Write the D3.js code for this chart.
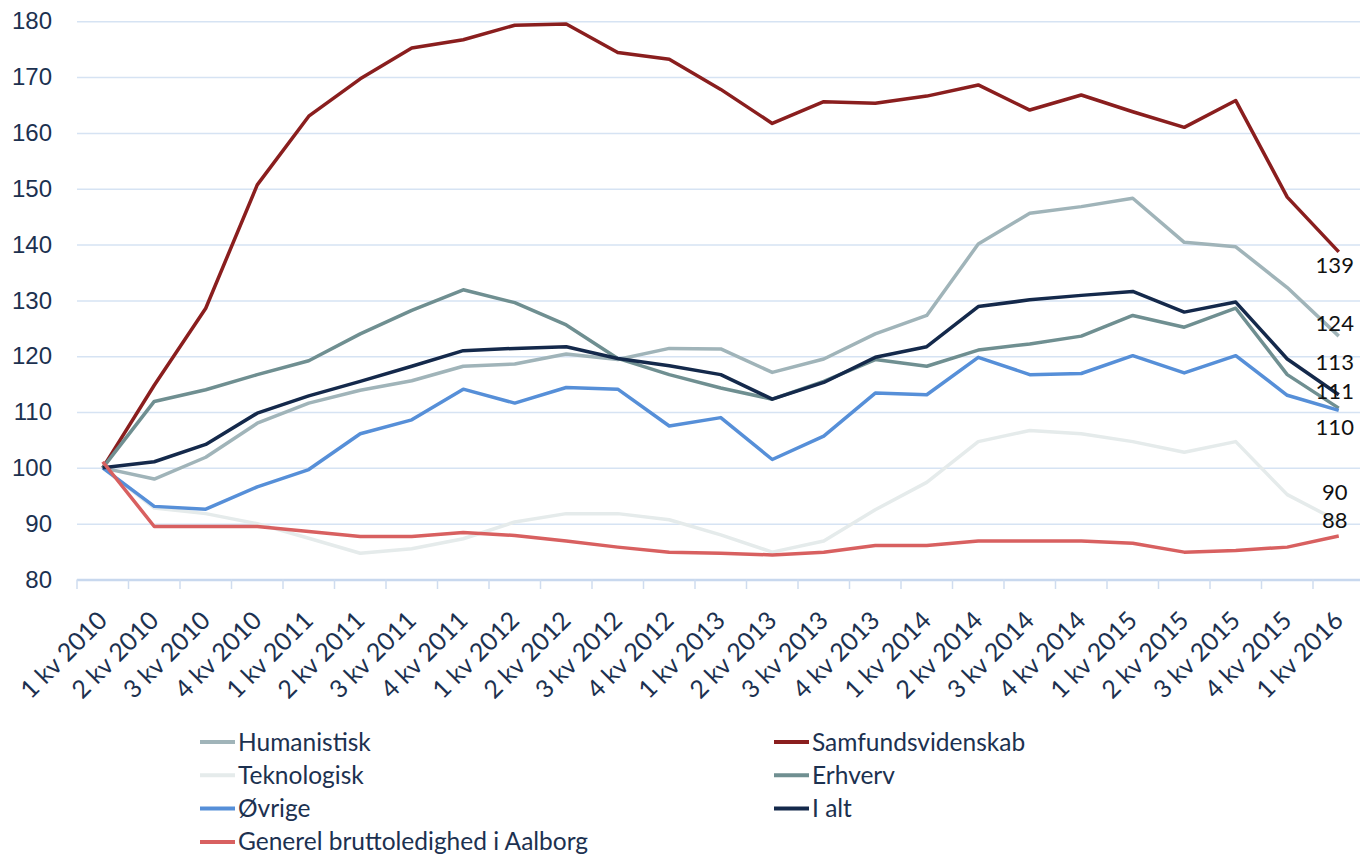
<!DOCTYPE html>
<html>
<head>
<meta charset="utf-8">
<script src="https://cdn.jsdelivr.net/npm/d3@7"></script>
<style>
	body { margin: 0; background: #fff; }
	svg { display: block; font-family: Lato, "Open Sans", sans-serif; }
	.grid line { stroke: #d6e3f3; stroke-width: 1.5; }
	.tick text { fill: #1c3150; }
	.line { fill: none; stroke-width: 3.5; stroke-linejoin: round; }
</style>
</head>
<body>
<svg id="svg0" width="1360" height="856"></svg>
<script>
// kvartaler (x-akse)
var quarters = ["1 kv 2010","2 kv 2010","3 kv 2010","4 kv 2010",
	"1 kv 2011","2 kv 2011","3 kv 2011","4 kv 2011",
	"1 kv 2012","2 kv 2012","3 kv 2012","4 kv 2012",
	"1 kv 2013","2 kv 2013","3 kv 2013","4 kv 2013",
	"1 kv 2014","2 kv 2014","3 kv 2014","4 kv 2014",
	"1 kv 2015","2 kv 2015","3 kv 2015","4 kv 2015",
	"1 kv 2016"];
var yTicks = [80, 90, 100, 110, 120, 130, 140, 150, 160, 170, 180];

// indeks, 1 kv 2010 = 100
var humanistisk = [100, 98.0, 101.9, 108.0, 111.6, 113.9, 115.6, 118.2, 118.6, 120.4, 119.4, 121.4, 121.3,
	117.1, 119.5, 124.0, 127.3, 140.1, 145.6, 146.8, 148.3, 140.4, 139.6, 132.3, 123.6];
var samfund = [100, 114.8, 128.6, 150.7, 163.0, 169.7, 175.2, 176.7, 179.3, 179.5, 174.4, 173.2, 167.8,
	161.7, 165.6, 165.3, 166.6, 168.6, 164.1, 166.8, 163.8, 161.0, 165.8, 148.5, 138.7];
var teknologisk = [100, 92.8, 91.8, 90.0, 87.4, 84.7, 85.5, 87.3, 90.3, 91.8, 91.8, 90.7, 88.0,
	84.9, 86.9, 92.5, 97.4, 104.7, 106.7, 106.1, 104.7, 102.8, 104.7, 95.2, 90.4];
var erhverv = [100, 111.9, 114.0, 116.7, 119.2, 124.0, 128.2, 131.9, 129.6, 125.6, 119.6, 116.7, 114.3,
	112.3, 115.5, 119.4, 118.2, 121.1, 122.2, 123.6, 127.3, 125.2, 128.6, 116.7, 110.7];
var oevrige = [100, 93.1, 92.6, 96.6, 99.7, 106.1, 108.6, 114.1, 111.6, 114.4, 114.1, 107.5, 109.0,
	101.5, 105.7, 113.4, 113.1, 119.8, 116.7, 116.9, 120.1, 117.0, 120.1, 113.0, 110.3];
var iAlt = [100, 101.1, 104.2, 109.8, 112.9, 115.5, 118.2, 121.0, 121.4, 121.7, 119.6, 118.3, 116.7,
	112.3, 115.3, 119.8, 121.7, 128.9, 130.1, 130.9, 131.6, 127.9, 129.7, 119.5, 113.1];
var generel = [101.1, 89.5, 89.5, 89.5, 88.6, 87.7, 87.7, 88.4, 87.9, 86.9, 85.8, 84.9, 84.7,
	84.4, 84.9, 86.1, 86.1, 86.9, 86.9, 86.9, 86.5, 84.9, 85.2, 85.8, 87.8];

var seriesNames = ["Humanistisk", "Samfundsvidenskab", "Teknologisk", "Erhverv", "Øvrige", "I alt",
	"Generel bruttoledighed i Aalborg"];
var seriesValues = [humanistisk, samfund, teknologisk, erhverv, oevrige, iAlt, generel];
var seriesColors = ["#a0b4b9", "#8a1e1e", "#e5ebeb", "#6f8f91", "#568fd8", "#14294b", "#d86060"];

// slut-etiketter og deres lodrette forskydning
var endLabels = ["124", "139", "90", "111", "110", "113", "88"];
var endLabelDy = [-13, 13, -29, -17, 17, -32, -16];

var dataset = seriesNames.map(function(name, i){
	return {name: name, color: seriesColors[i], label: endLabels[i], dy: endLabelDy[i],
		values: seriesValues[i].map(function(v, j){ return {q: quarters[j], v: v}; })};
});

var svg = d3.select("#svg0");

var xScale = d3.scaleBand()
				.domain(quarters)
				.range([77, 1364.5]);

var yScale = d3.scaleLinear()
				.domain([80, 180])
				.range([579.5, 21.3]);

var cx = function(q){ return xScale(q) + xScale.bandwidth() / 2; };

// gitterlinjer + y-akse
var yAxis = svg.append("g")
	.attr("class", "grid")
	.attr("transform", "translate(77,0)")
	.call(d3.axisLeft(yScale).tickValues(yTicks).tickSize(-1290).tickPadding(25));
yAxis.select(".domain").remove();
yAxis.selectAll("text").style("font-size", "24px");
yAxis.selectAll(".tick").filter(function(d){ return d === 80; }).select("line")
	.style("stroke", "#c8d8ee").style("stroke-width", 2.5);

// x-akse: tick-streger ved kategorigrænser
var xTickG = svg.append("g");
xTickG.selectAll("line")
	.data(quarters)
	.enter().append("line")
	.attr("x1", function(d){ return xScale(d); })
	.attr("x2", function(d){ return xScale(d); })
	.attr("y1", 579.5)
	.attr("y2", 589)
	.style("stroke", "#cfdcef")
	.style("stroke-width", 1.5);

svg.append("g").selectAll("text")
	.data(quarters)
	.enter().append("text")
	.text(function(d){ return d; })
	.attr("transform", function(d){ return "translate(" + (cx(d) + 6) + ",622) rotate(-45)"; })
	.style("text-anchor", "end")
	.style("font-size", "25px")
	.style("fill", "#1c3150");

var line = d3.line()
			.x(function(d){ return cx(d.q); })
			.y(function(d){ return yScale(d.v); });

svg.append("g").selectAll("path")
	.data(dataset)
	.enter().append("path")
	.attr("class", "line")
	.attr("d", function(d){ return line(d.values); })
	.style("stroke", function(d){ return d.color; });

// værdier ved sidste kvartal
svg.append("g").selectAll("text")
	.data(dataset)
	.enter().append("text")
	.text(function(d){ return d.label; })
	.attr("x", function(d){ return cx(quarters[quarters.length - 1]) - 4; })
	.attr("y", function(d){ return yScale(d.values[d.values.length - 1].v) + d.dy; })
	.attr("dy", "0.35em")
	.style("text-anchor", "middle")
	.style("font-size", "22px")
	.style("fill", "#111");

// legend i to kolonner
var legend = svg.append("g").selectAll("g")
	.data(dataset)
	.enter().append("g")
	.attr("transform", function(d, i){
		return "translate(" + (200 + (i % 2) * 574) + "," + (742 + Math.floor(i / 2) * 33.3) + ")";
	});
legend.append("line")
	.attr("x1", 0).attr("x2", 35)
	.style("stroke", function(d){ return d.color; })
	.style("stroke-width", 4);
legend.append("text")
	.text(function(d){ return d.name; })
	.attr("x", 38)
	.attr("dy", "0.35em")
	.style("font-size", "24.5px")
	.style("fill", "#1c3150");
</script>
</body>
</html>
